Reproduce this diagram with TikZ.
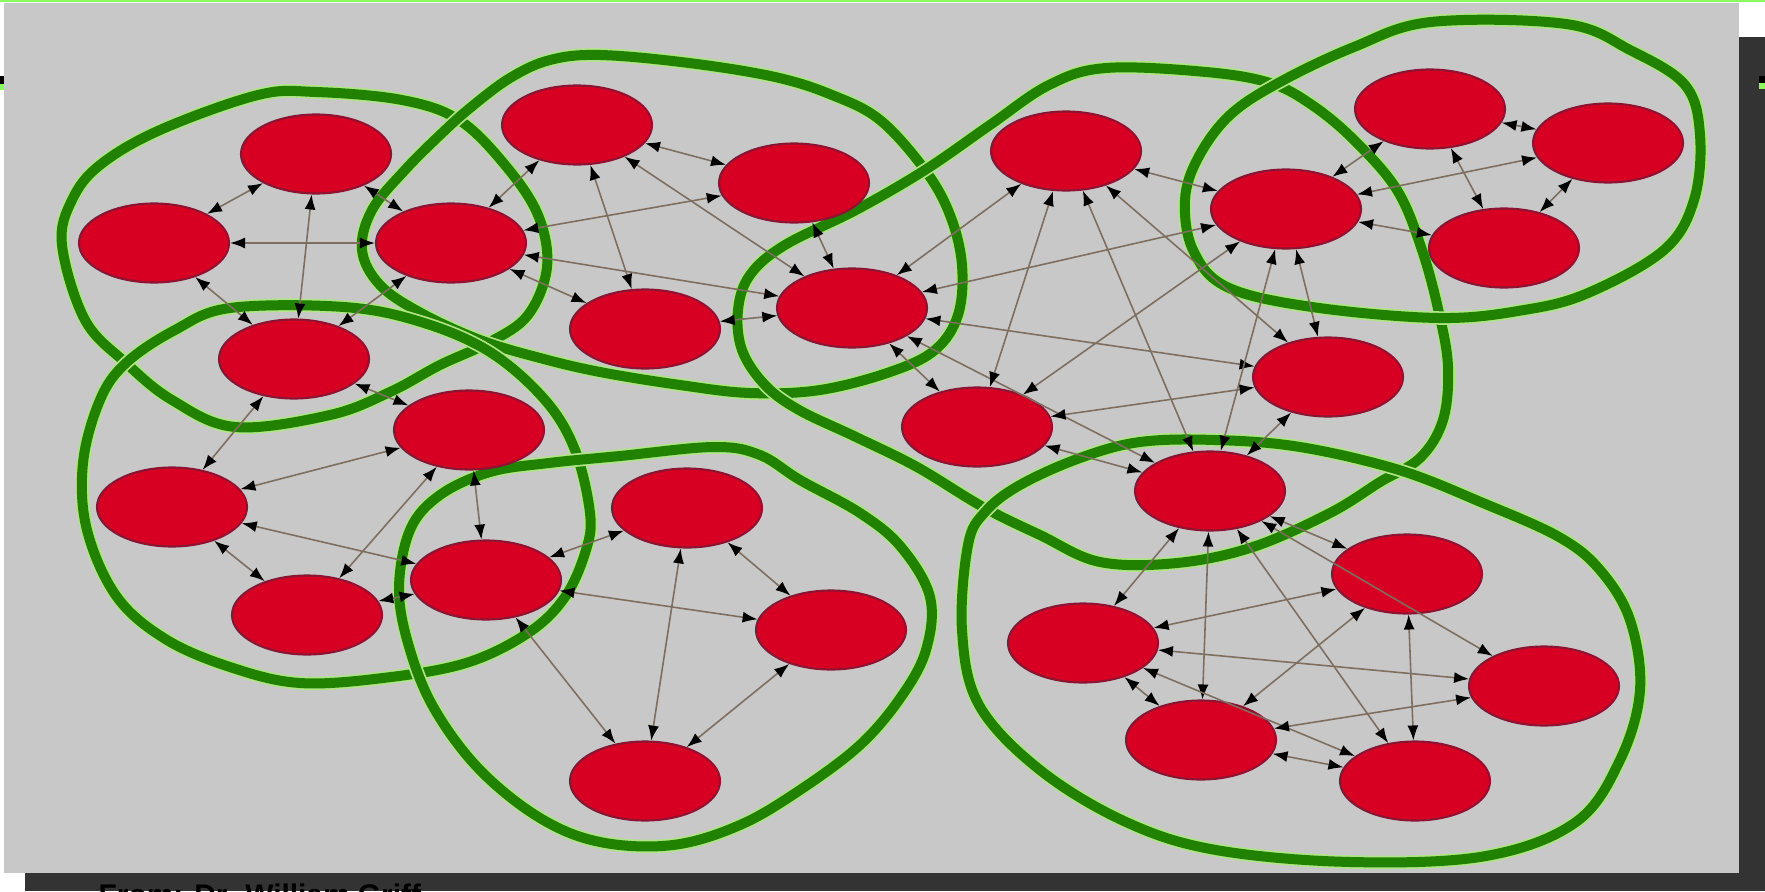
\documentclass[tikz,border=0pt]{standalone}
\usepackage{fontspec}
\setsansfont{Liberation Sans}
\usetikzlibrary{arrows.meta, shapes.geometric, positioning}
\definecolor{panelgray}{RGB}{200,200,200}
\definecolor{shadowgray}{RGB}{51,51,51}
\definecolor{topgreen}{RGB}{140,250,90}
\definecolor{ringgreen}{RGB}{32,130,0}
\definecolor{ringhalo}{RGB}{175,228,135}
\definecolor{peerred}{RGB}{215,0,35}
\definecolor{peeredge}{RGB}{140,20,50}
\definecolor{linkbrown}{RGB}{125,110,95}
\tikzset{
  peer/.style={ellipse, draw=peeredge, line width=0.6pt, fill=peerred,
               minimum width=15mm, minimum height=7.9mm, inner sep=0pt},
  link/.style={draw=linkbrown, line width=0.45pt,
               {Latex[length=1.5mm,width=1.1mm,color=black]}-{Latex[length=1.5mm,width=1.1mm,color=black]}},
  clusterline/.style={draw=ringgreen, line width=1mm, line join=round,
               preaction={draw=ringhalo, line width=1.35mm}}
}

\begin{document}
\begin{tikzpicture}[x=0.1mm,y=-0.1mm]

% ── Slide frame ───────────────────────────────────────────────────────────────
\useasboundingbox (0,0) rectangle (1765,891);
\fill[white] (0,0) rectangle (1765,891);
\fill[shadowgray] (1739,37) rectangle (1765,891);
\fill[shadowgray] (25,873) rectangle (1765,891);
\fill[panelgray] (4,3) rectangle (1739,873);
\fill[topgreen] (0,0) rectangle (1765,2.5);
\fill[black] (0,76) rectangle (4,84);
\fill[topgreen] (0,84) rectangle (4,90);
\fill[black] (1759,76) rectangle (1765,83);
\fill[topgreen] (1759,83) rectangle (1765,89);

\node[anchor=base west, inner sep=0pt, font=\sffamily\bfseries\fontsize{8.5}{10}\selectfont]
     (credit) at (98,905) {From: Dr. William Griff};

% ── Cluster rings ─────────────────────────────────────────────────────────────
% top left
\draw[clusterline] plot[smooth cycle, tension=0.6] coordinates {
  (62,245) (72,200) (100,165) (160,130) (258,95) (316,92) (402,100) (459,120)
  (505,165) (538,215) (547,267) (528,315) (490,342) (440,365) (390,392)
  (330,415) (235,427) (172,400) (126,363) (85,320)};
% top middle
\draw[clusterline] plot[smooth cycle, tension=0.6] coordinates {
  (362,250) (372,210) (405,170) (440,135) (470,108) (510,78) (550,60) (600,55)
  (689,63) (775,77) (832,95) (880,120) (925,170) (950,215) (962,265) (958,315)
  (935,350) (890,372) (820,390) (750,393) (680,385) (600,372) (540,358)
  (480,340) (421,313) (380,285)};
% centre
\draw[clusterline] plot[smooth cycle, tension=0.6] coordinates {
  (738,310) (750,275) (785,245) (856,210) (925,170) (990,125) (1049,85)
  (1106,68) (1206,72) (1270,83) (1312,105) (1354,140) (1397,190) (1422,250)
  (1439,313) (1448,367) (1443,420) (1420,458) (1380,482) (1330,513)
  (1253,547) (1177,563) (1100,562) (1040,535) (983,507) (917,467) (856,437)
  (799,410) (765,385) (742,350)};
% top right
\draw[clusterline] plot[smooth cycle, tension=0.6] coordinates {
  (1185,200) (1198,158) (1230,115) (1280,82) (1354,47) (1431,22) (1566,24)
  (1630,50) (1685,85) (1700,135) (1694,200) (1664,250) (1588,293) (1524,310)
  (1439,318) (1312,307) (1227,287) (1193,250)};
% bottom left
\draw[clusterline] plot[smooth cycle, tension=0.6] coordinates {
  (126,363) (175,330) (230,308) (344,307) (421,322) (490,352) (545,400)
  (575,450) (590,513) (586,550) (565,597) (528,633) (466,663) (383,678)
  (300,683) (233,668) (167,640) (117,597) (87,530) (83,463) (100,400)};
% bottom middle
\draw[clusterline] plot[smooth cycle, tension=0.6] coordinates {
  (399,590) (410,530) (440,495) (490,472) (549,463) (620,456) (714,447)
  (760,455) (800,480) (860,513) (901,547) (930,597) (926,650) (901,697)
  (860,745) (800,790) (740,825) (673,845) (600,842) (540,818) (480,770)
  (435,710) (410,650)};
% bottom right
\draw[clusterline] plot[smooth cycle, tension=0.6] coordinates {
  (968,545) (962,630) (979,705) (1040,770) (1126,822) (1216,850) (1351,862)
  (1486,856) (1576,822) (1620,760) (1640,690) (1630,620) (1600,570)
  (1559,537) (1483,503) (1399,470) (1300,447) (1215,440) (1140,442)
  (1080,458) (1020,485) (985,512)};

% ── Peers ─────────────────────────────────────────────────────────────────────
\foreach \name/\x/\y in {
    n1/316/154,  n2/154/243,  n3/451/243,  n4/294/359,
    n5/577/125,  n6/794/183,  n7/645/329,  n8/852/308,
    n9/1066/151, n10/1286/209, n11/1430/109, n12/1608/143,
    n13/1504/248, n14/1328/377, n15/977/427, n16/1210/491,
    n17/469/430, n18/172/507, n19/307/615, n20/486/580,
    n21/687/508, n22/831/630, n23/645/781, n24/1407/574,
    n25/1083/643, n26/1544/686, n27/1201/740, n28/1415/781}
  \node[peer] (\name) at (\x,\y) {};

% ── Links ─────────────────────────────────────────────────────────────────────
\foreach \a/\b in {
    n1/n2, n1/n3, n1/n4, n3/n2, n2/n4, n3/n4, n4/n17, n4/n18,
    n3/n5, n3/n6, n3/n8, n3/n7,
    n5/n6, n5/n7, n5/n8, n6/n8, n7/n8,
    n8/n9, n8/n10, n8/n14, n8/n16, n8/n15, n9/n15, n9/n16, n9/n14,
    n15/n10, n15/n14, n15/n16, n10/n16, n10/n14, n14/n16, n9/n10,
    n10/n11, n10/n12, n10/n13, n11/n12, n11/n13, n12/n13,
    n17/n18, n20/n18, n18/n19, n17/n19, n17/n20, n19/n20, n20/n21,
    n20/n22, n20/n23, n21/n23, n21/n22, n22/n23,
    n16/n25, n16/n27, n16/n28, n16/n24, n16/n26, n24/n25, n25/n26,
    n25/n28, n25/n27, n27/n24, n27/n26, n27/n28, n24/n28}
  \draw[link] (\a) -- (\b);

\end{tikzpicture}
\end{document}
